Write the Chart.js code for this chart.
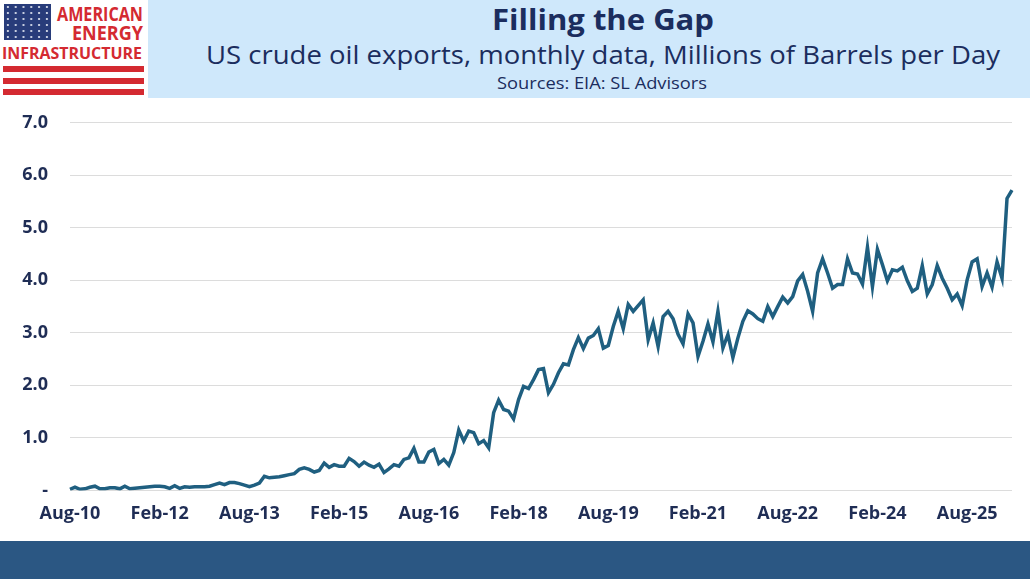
<!DOCTYPE html>
<html>
<head>
<meta charset="utf-8">
<script src="https://cdn.jsdelivr.net/npm/chart.js@4.4.1/dist/chart.umd.min.js"></script>
<style>
  html, body { margin: 0; padding: 0; background: #fff; }
  body { width: 1030px; height: 579px; position: relative; overflow: hidden; font-family: 'Open Sans', sans-serif; }
  #header { position: absolute; left: 0; top: 0; }
  #chart-wrap { position: absolute; left: 0; top: 90px; width: 1030px; height: 451px; }
  #footer { position: absolute; left: 0; top: 541px; width: 1030px; height: 38px; background: #2b5783; }
</style>
</head>
<body>
<svg id="header" width="1030" height="100" xmlns="http://www.w3.org/2000/svg">
  <defs>
    <pattern id="stars" x="4" y="4" width="7.8" height="6" patternUnits="userSpaceOnUse">
      <circle cx="3.9" cy="3" r="1.1" fill="#e8ecf5"/>
    </pattern>
  </defs>
  <rect x="148" y="0" width="882" height="98" fill="#cfe8fb"/>
  <rect x="4" y="4" width="47" height="36" fill="#283c7a"/>
  <rect x="4" y="4" width="47" height="36" fill="url(#stars)"/>
  <g fill="#d42a31" font-family="'Open Sans', sans-serif" font-weight="700">
    <text x="57" y="21" font-size="19" textLength="86" lengthAdjust="spacingAndGlyphs">AMERICAN</text>
    <text x="72" y="40" font-size="19" textLength="71" lengthAdjust="spacingAndGlyphs">ENERGY</text>
    <text x="2" y="59" font-size="16" textLength="140" lengthAdjust="spacingAndGlyphs">INFRASTRUCTURE</text>
  </g>
  <rect x="3" y="66" width="141" height="6" fill="#d42a31"/>
  <rect x="3" y="78" width="141" height="6" fill="#d42a31"/>
  <rect x="3" y="89" width="141" height="6" fill="#d42a31"/>
  <g fill="#1b2d5e" font-family="'Open Sans', sans-serif">
    <text x="492" y="30" font-size="28" font-weight="700" textLength="222" lengthAdjust="spacingAndGlyphs">Filling the Gap</text>
    <text x="206" y="64" font-size="26" textLength="794" lengthAdjust="spacingAndGlyphs">US crude oil exports, monthly data, Millions of Barrels per Day</text>
    <text x="497" y="89" font-size="16" textLength="210" lengthAdjust="spacingAndGlyphs">Sources: EIA: SL Advisors</text>
  </g>
</svg>
<div id="chart-wrap"><canvas id="exports-chart"></canvas></div>
<div id="footer"></div>
<script>
// US crude oil exports, million b/d, monthly from Aug-10
const exports_mbd = [
    0.02, 0.06, 0.02, 0.03, 0.06,                                               // 2010 Aug-Dec
    0.08, 0.03, 0.03, 0.05, 0.05, 0.03, 0.08, 0.03, 0.04, 0.05, 0.06, 0.07,     // 2011
    0.08, 0.08, 0.07, 0.04, 0.09, 0.04, 0.07, 0.06, 0.07, 0.07, 0.07, 0.08,     // 2012
    0.11, 0.14, 0.11, 0.15, 0.15, 0.13, 0.10, 0.07, 0.10, 0.14, 0.27, 0.24,     // 2013
    0.25, 0.26, 0.28, 0.30, 0.32, 0.40, 0.43, 0.40, 0.35, 0.38, 0.52, 0.44,     // 2014
    0.49, 0.46, 0.46, 0.61, 0.55, 0.46, 0.54, 0.48, 0.44, 0.50, 0.34, 0.41,     // 2015
    0.49, 0.46, 0.59, 0.62, 0.80, 0.54, 0.54, 0.73, 0.78, 0.51, 0.59, 0.48,     // 2016
    0.72, 1.15, 0.94, 1.13, 1.10, 0.89, 0.95, 0.81, 1.48, 1.72, 1.54, 1.51,     // 2017
    1.36, 1.73, 1.98, 1.94, 2.11, 2.30, 2.32, 1.86, 2.02, 2.24, 2.41, 2.39,     // 2018
    2.68, 2.91, 2.70, 2.90, 2.95, 3.08, 2.71, 2.76, 3.12, 3.41, 3.08, 3.54,     // 2019
    3.41, 3.52, 3.63, 2.87, 3.19, 2.74, 3.31, 3.41, 3.27, 2.97, 2.79, 3.36,     // 2020
    3.19, 2.55, 2.84, 3.17, 2.83, 3.41, 2.71, 2.97, 2.53, 2.90, 3.22, 3.42,     // 2021
    3.36, 3.27, 3.22, 3.50, 3.31, 3.50, 3.68, 3.57, 3.69, 3.99, 4.11, 3.79,     // 2022
    3.41, 4.14, 4.41, 4.14, 3.85, 3.92, 3.92, 4.41, 4.14, 4.12, 3.93, 4.63,     // 2023
    3.88, 4.59, 4.30, 3.99, 4.20, 4.18, 4.25, 3.99, 3.79, 3.85, 4.28, 3.74,     // 2024
    3.92, 4.28, 4.04, 3.85, 3.63, 3.74, 3.52, 4.01, 4.35, 4.41, 3.88, 4.14,     // 2025
    3.87, 4.35, 4.04, 5.56, 5.72                                                // 2026 Jan-May
]
const tick_labels = ['Aug-10', 'Feb-12', 'Aug-13', 'Feb-15', 'Aug-16', 'Feb-18', 'Aug-19', 'Feb-21', 'Aug-22', 'Feb-24', 'Aug-25']
const y_ticks = [0, 1, 2, 3, 4, 5, 6, 7]

const MONTHS = ['Jan', 'Feb', 'Mar', 'Apr', 'May', 'Jun', 'Jul', 'Aug', 'Sep', 'Oct', 'Nov', 'Dec']
const months = exports_mbd.map((v, i) => {
    const m = 7 + i
    const yy = 10 + Math.floor(m / 12)
    return `${MONTHS[m % 12]}-${String(yy).padStart(2, '0')}`
})

const navy = '#1f2d55'
const tickFont = { family: "'Open Sans', sans-serif", size: 18, weight: 'bold' }
const canvasEl = document.getElementById('exports-chart')
new Chart(canvasEl.getContext('2d'), {
    type: 'line',
    data: {
        labels: months,
        datasets: [{
            data: exports_mbd,
            borderColor: '#1f5f80',
            borderWidth: 3.5,
            pointRadius: 0,
            tension: 0,
            fill: false
        }]
    },
    options: {
        responsive: true,
        maintainAspectRatio: false,
        animation: false,
        layout: { padding: { top: 1, right: 18, bottom: 3, left: 20 } },
        plugins: {
            legend: { display: false },
            tooltip: { enabled: false }
        },
        scales: {
            x: {
                grid: { display: false, drawTicks: false },
                border: { display: false },
                ticks: {
                    autoSkip: false,
                    maxRotation: 0,
                    minRotation: 0,
                    padding: 13,
                    color: navy,
                    font: tickFont,
                    callback: function (value, index) {
                        const label = this.getLabelForValue(value)
                        return tick_labels.includes(label) ? label : ''
                    }
                }
            },
            y: {
                min: y_ticks[0],
                max: y_ticks[y_ticks.length - 1],
                afterBuildTicks: scale => { scale.ticks = y_ticks.map(value => ({ value })) },
                afterFit: scale => { scale.width = 50 },
                grid: { color: '#dcdcdc', lineWidth: 1, drawTicks: false },
                border: { display: false },
                ticks: {
                    padding: 22,
                    color: navy,
                    font: tickFont,
                    callback: value => value === 0 ? '-' : value.toFixed(1)
                }
            }
        }
    }
})
</script>
</body>
</html>
